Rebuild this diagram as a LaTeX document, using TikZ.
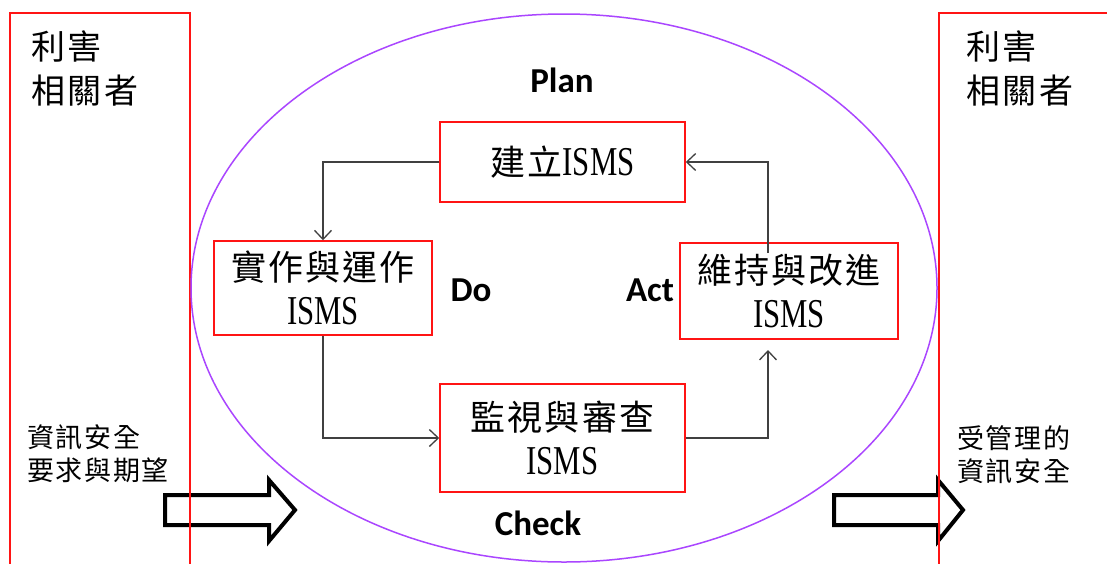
\documentclass[tikz,border=0pt]{standalone}
\usepackage{fontspec}
\usetikzlibrary{arrows.meta}
\newfontfamily\cjkfont[LetterSpace=6]{Noto Sans CJK TC}
\newfontfamily\cjkstk[LetterSpace=8]{Noto Sans CJK TC}
\newfontfamily\latserif{Liberation Serif}
\newfontfamily\calfont{Carlito}
\definecolor{ellc}{RGB}{170,70,255}
\definecolor{boxred}{RGB}{255,20,20}
\newcommand\ISMSt{{\latserif\fontsize{41}{44}\selectfont\scalebox{0.75}[1]{ISMS}}}
\tikzset{
  box/.style={draw=boxred, line width=1.5pt, inner sep=0pt, align=center,
    font=\cjkfont\fontsize{35}{44}\selectfont},
  conn/.style={draw=black!75, line width=1.3pt, -{Straight Barb[length=9pt,width=17pt]}},
  pdca/.style={inner sep=0pt, font=\calfont\bfseries\fontsize{35}{40}\selectfont},
  bigarrow/.style={draw=black, line width=4pt, line join=miter},
  stake/.style={draw=boxred, line width=1.5pt},
  stktext/.style={inner sep=0pt, align=left, anchor=west,
    font=\cjkstk\fontsize{34}{44}\selectfont},
  smalltext/.style={inner sep=0pt, align=left, anchor=west,
    font=\cjkfont\fontsize{27}{33}\selectfont},
}
\begin{document}
\begin{tikzpicture}[x=1pt,y=-1pt]
\clip (0,0) rectangle (1107,563);
\fill[white] (0,0) rectangle (1107,563);

% hollow block arrows
\draw[bigarrow] (165,495) -- (269,495) -- (269,480) -- (295,510) -- (269,541) -- (269,525) -- (165,525) -- cycle;
\draw[bigarrow] (834,495) -- (938,495) -- (938,480) -- (963,510) -- (938,541) -- (938,525) -- (834,525) -- cycle;

% stakeholder frames
\draw[stake] (10,600) -- (10,13) -- (190,13) -- (190,600);
\draw[stake] (939,600) -- (939,13) -- (1120,13);

% ellipse
\draw[ellc, line width=1.5pt] (564,288) ellipse [x radius=373pt, y radius=274pt];

% stakeholder texts
\node[stktext] (sl) at (31,68) {利害\\相關者};
\node[stktext] (sr) at (966,68) {利害\\相關者};
\node[smalltext] (reqs) at (27,454) {資訊安全\\要求與期望};
\node[smalltext] (outs) at (957,455) {受管理的\\資訊安全};

% process boxes
\node[box, minimum width=245pt, minimum height=80pt] (plan) at (562.5,162) {建立\ISMSt};
\node[box, minimum width=218pt, minimum height=94pt] (do) at (323,288) {實作與運作\\\ISMSt};
\node[box, minimum width=218pt, minimum height=96pt] (act) at (789,291) {維持與改進\\\ISMSt};
\node[box, minimum width=245pt, minimum height=108pt] (chk) at (562.5,438) {監視與審查\\\ISMSt};

% PDCA labels
\node[pdca] (lplan) at (562,80) {Plan};
\node[pdca] (ldo) at (471,290) {Do};
\node[pdca] (lact) at (650,290) {Act};
\node[pdca] (lchk) at (538,523) {Check};

% connectors
\coordinate (actin) at (768,350);
\coordinate (actout) at (768,253);
\draw[conn] (plan.west) -| (do.north);
\draw[conn] (do.south) |- (chk.west);
\draw[conn] (chk.east) -| (actin);
\draw[conn] (actout) |- (plan.east);
\end{tikzpicture}
\end{document}
